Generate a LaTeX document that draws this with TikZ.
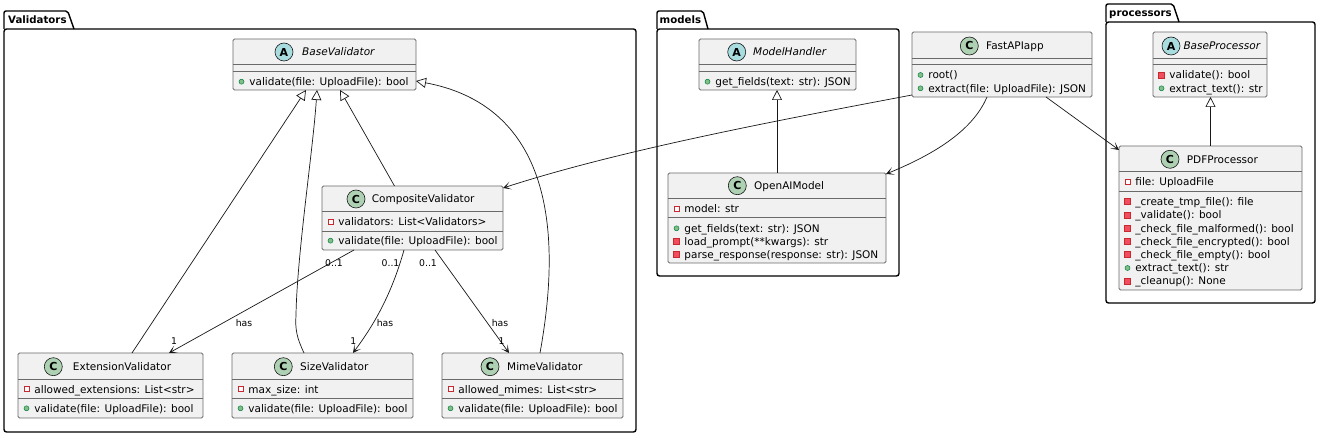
\documentclass[tikz,border=0pt]{standalone}
\usepackage{fontspec}
\setmainfont{DejaVu Sans}
\usetikzlibrary{arrows.meta,calc}
\definecolor{clsfill}{HTML}{F1F1F1}
\definecolor{clsline}{HTML}{181818}
\definecolor{boxline}{HTML}{6A6A6A}
\definecolor{cfill}{HTML}{ADD1B2}
\definecolor{afill}{HTML}{A9DCDF}
\definecolor{pubfill}{HTML}{84BE84}
\definecolor{publine}{HTML}{038048}
\definecolor{privfill}{HTML}{F24D5C}
\definecolor{privline}{HTML}{C82930}
\newcommand{\ftxt}{\fontsize{10.5}{13}\selectfont}
\newcommand{\flab}{\fontsize{9.3}{11}\selectfont}
\newcommand{\fpkg}{\fontsize{10.2}{12}\selectfont\bfseries}
\tikzset{
  cls/.style={draw=boxline, fill=clsfill, line width=0.8pt, rounded corners=1.5pt, inner sep=0pt, outer sep=0pt, anchor=north west},
  sepl/.style={draw=boxline, line width=0.8pt},
  icon/.style={circle, draw=clsline, line width=0.6pt, minimum size=18pt, inner sep=0pt, font=\fontsize{11}{12}\selectfont\bfseries},
  mt/.style={anchor=west, inner sep=0pt, text height=7.7pt, text depth=0pt, font=\ftxt},
  hdt/.style={mt},
  hdi/.style={mt, font=\ftxt\itshape},
  lab/.style={inner sep=0pt, text height=6.8pt, text depth=0pt, font=\flab},
  pkg/.style={draw=black, line width=1.4pt},
  pkgt/.style={anchor=west, inner sep=0pt, text height=7.4pt, text depth=0pt, font=\fpkg},
  inh/.style={draw=clsline, line width=0.7pt, -{Triangle[length=10pt,width=10pt,fill=white]}},
  asc/.style={draw=clsline, line width=0.7pt, -{Stealth[length=8pt,width=8pt,inset=5pt]}},
  pubm/.pic={\draw[fill=pubfill, draw=publine, line width=0.5pt] (0,0) circle (2.5pt);},
  privf/.pic={\draw[fill=white, draw=privline, line width=0.8pt] (-2.5,-2.5) rectangle (2.5,2.5);},
  privm/.pic={\draw[fill=privfill, draw=privline, line width=0.5pt] (-3,-3) rectangle (3,3);}
}
% class box: name, x1, y1, x2, y2, separator 1 y, separator 2 y
\newcommand{\umlcls}[7]{%
  \node[cls, minimum width={(#4)-(#2)}, minimum height={(#5)-(#3)}] (#1) at (#2,#3) {};
  \draw[sepl] (#2,#6) -- (#4,#6);
  \draw[sepl] (#2,#7) -- (#4,#7);
}
% header: id, fill, letter, circle x, text x, y, text, text style
\newcommand{\hdr}[8]{%
  \node[icon, fill=#2] (#1-icon) at (#4,#6) {#3};
  \node[#8] (#1-name) at (#5,#6) {#7};
}
% member: id, kind, box left, y, text
\newcommand{\mem}[5]{%
  \pic at ({#3+8.5},#4) {#2};
  \node[mt] (#1) at ({#3+16.2},#4) {#5};
}
\begin{document}
\begin{tikzpicture}[x=1pt, y=-1pt]
\useasboundingbox (0,0) rectangle (1320,435);
\fill[white] (0,0) rectangle (1320,435);

% packages
\draw[pkg, rounded corners=2pt] (4,29) -- (4,11) -- (67.7,11) -- (74,29);
\draw[pkg, rounded corners=2.5pt] (4,29) rectangle (636,432);
\node[pkgt] (pkg-val) at (8,20) {Validators};

\draw[pkg, rounded corners=2pt] (657,29) -- (657,11) -- (703,11) -- (708,29);
\draw[pkg, rounded corners=2.5pt] (657,29) rectangle (899,276);
\node[pkgt] (pkg-mod) at (659.5,20) {models};

\draw[pkg, rounded corners=2pt] (1106,22) -- (1106,4) -- (1173,4) -- (1179,22);
\draw[pkg, rounded corners=2.5pt] (1106,22) rectangle (1315,303);
\node[pkgt] (pkg-proc) at (1109,13.3) {processors};

% classes
\umlcls{bv}{233}{39}{416}{90}{64.3}{71}
\hdr{bv}{afill}{A}{284}{302}{52}{BaseValidator}{hdi}
\mem{bv-1}{pubm}{233}{81.7}{validate(file: UploadFile): bool}

\umlcls{comp}{322}{186}{503}{250}{211}{231}
\hdr{comp}{cfill}{C}{356}{371.7}{199}{CompositeValidator}{hdt}
\mem{comp-1}{privf}{322}{221.7}{validators: List<Validators>}
\mem{comp-2}{pubm}{322}{240.7}{validate(file: UploadFile): bool}

\umlcls{ext}{18}{353}{203}{418}{379.3}{398.7}
\hdr{ext}{cfill}{C}{53.3}{72.7}{366.7}{ExtensionValidator}{hdt}
\mem{ext-1}{privf}{18}{389.3}{allowed\_extensions: List<str>}
\mem{ext-2}{pubm}{18}{408.3}{validate(file: UploadFile): bool}

\umlcls{size}{232}{353}{413}{418}{379.3}{398.7}
\hdr{size}{cfill}{C}{283.3}{300}{366.7}{SizeValidator}{hdt}
\mem{size-1}{privf}{232}{389.3}{max\_size: int}
\mem{size-2}{pubm}{232}{408.3}{validate(file: UploadFile): bool}

\umlcls{mime}{442}{353}{623}{418}{379.3}{398.7}
\hdr{mime}{cfill}{C}{490}{507}{366.7}{MimeValidator}{hdt}
\mem{mime-1}{privf}{442}{389.3}{allowed\_mimes: List<str>}
\mem{mime-2}{pubm}{442}{408.3}{validate(file: UploadFile): bool}

\umlcls{mh}{699}{39}{856}{90}{64.3}{71}
\hdr{mh}{afill}{A}{736.7}{753}{52}{ModelHandler}{hdi}
\mem{mh-1}{pubm}{699}{81.7}{get\_fields(text: str): JSON}

\umlcls{oai}{668}{173}{886}{263}{198.3}{217.7}
\hdr{oai}{cfill}{C}{737.3}{754}{185.7}{OpenAIModel}{hdt}
\mem{oai-1}{privf}{668}{208.7}{model: str}
\mem{oai-2}{pubm}{668}{228.3}{get\_fields(text: str): JSON}
\mem{oai-3}{privm}{668}{241.3}{load\_prompt(**kwargs): str}
\mem{oai-4}{privm}{668}{254.7}{parse\_response(response: str): JSON}

\umlcls{fast}{912}{32}{1092}{97}{58.3}{64.3}
\hdr{fast}{cfill}{C}{969.3}{986}{46}{FastAPIapp}{hdt}
\mem{fast-1}{pubm}{912}{75}{root()}
\mem{fast-2}{pubm}{912}{88.3}{extract(file: UploadFile): JSON}

\umlcls{bp}{1153}{32}{1267}{97}{58.3}{64.3}
\hdr{bp}{afill}{A}{1171}{1183.3}{46}{BaseProcessor}{hdi}
\mem{bp-1}{privm}{1153}{75}{validate(): bool}
\mem{bp-2}{pubm}{1153}{88.3}{extract\_text(): str}

\umlcls{pdf}{1119}{146}{1302}{290}{171.7}{191.7}
\hdr{pdf}{cfill}{C}{1170}{1186.7}{159.3}{PDFProcessor}{hdt}
\mem{pdf-1}{privf}{1119}{182}{file: UploadFile}
\mem{pdf-2}{privm}{1119}{201.7}{\_create\_tmp\_file(): file}
\mem{pdf-3}{privm}{1119}{215}{\_validate(): bool}
\mem{pdf-4}{privm}{1119}{228.3}{\_check\_file\_malformed(): bool}
\mem{pdf-5}{privm}{1119}{241.3}{\_check\_file\_encrypted(): bool}
\mem{pdf-6}{privm}{1119}{254.7}{\_check\_file\_empty(): bool}
\mem{pdf-7}{pubm}{1119}{268}{extract\_text(): str}
\mem{pdf-8}{privm}{1119}{281}{\_cleanup(): None}

% inheritance
\coordinate (szbend) at (296,315);
\draw[inh] ($(ext.north)+(21.5,0)$) -- ($(bv.south)+(-18.5,0)$);
\draw[inh] ($(size.north)+(-18.5,0)$) .. controls +(-7,-15) and +(-1,15) .. (szbend)
  .. controls +(1,-60) and +(-4,60) .. ($(bv.south)+(-7.5,0)$);
\draw[inh] ($(comp.north)+(-18,0)$) -- ($(bv.south)+(15.5,0)$);
\draw[inh] ($(mime.north)+(7.5,0)$) .. controls +(15,-83) and +(154,29) .. ($(bv.east)+(0,16.5)$);
\draw[inh] (oai.north) -- (oai.north |- mh.south);
\draw[inh] (pdf.north) -- (pdf.north |- bp.south);

% associations
\draw[asc] ($(comp.south)+(-58.5,0)$) -- ($(ext.north)+(58.5,0)$);
\draw[asc] ($(comp.south)+(-8.5,0)$) .. controls +(-14,50) and +(17,-23) .. ($(size.north)+(30.5,0)$);
\draw[asc] ($(comp.south)+(22.5,0)$) -- ($(mime.north)+(-23.5,0)$);
\draw[asc] ($(fast.south west)+(0,-2)$) .. controls +(-132,25) and +(117,-38) .. ($(comp.north east)+(0,2)$);
\draw[asc] ($(fast.south)+(-15,0)$) .. controls +(-12,28) and +(59,-24) .. ($(oai.north east)+(0,1)$);
\draw[asc] ($(fast.south)+(44,0)$) -- ($(pdf.north west)+(0,4)$);

% multiplicities and labels
\node[lab] (m-ext-a) at (334,263) {0..1};
\node[lab] (m-size-a) at (390.5,263) {0..1};
\node[lab] (m-mime-a) at (428,263) {0..1};
\node[lab] (h-ext) at (244,323) {has};
\node[lab] (h-size) at (385,323) {has};
\node[lab] (h-mime) at (500,323) {has};
\node[lab] (m-ext-b) at (174,341) {1};
\node[lab] (m-size-b) at (353.3,341) {1};
\node[lab] (m-mime-b) at (501.7,341) {1};
\end{tikzpicture}
\end{document}
